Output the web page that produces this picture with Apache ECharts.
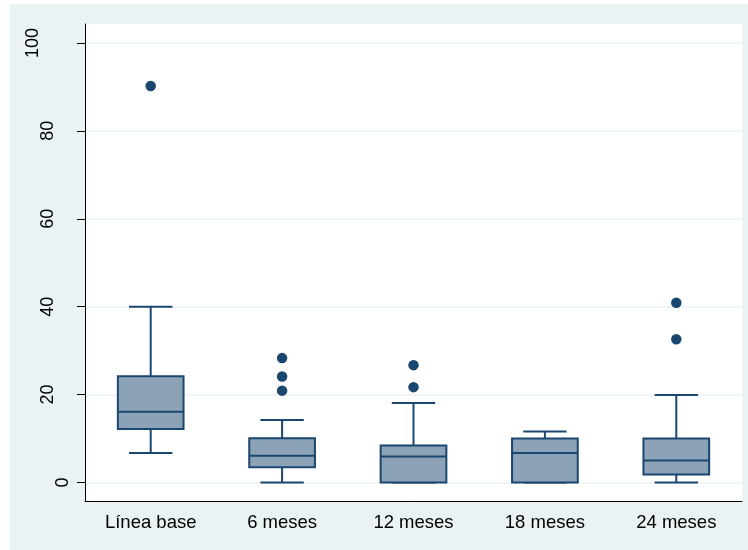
<!DOCTYPE html>
<html>
<head>
<meta charset="utf-8">
<script src="https://cdn.jsdelivr.net/npm/echarts@6/dist/echarts.min.js"></script>
<style>
  html, body { margin: 0; padding: 0; background: #fff; }
  #chart { position: absolute; left: 10px; top: 4px; width: 738px; height: 546px; background: #EAF2F3; }
</style>
</head>
<body>
<div id="chart"></div>
<script>
// categorias del eje x
const categories = ['Línea base', '6 meses', '12 meses', '18 meses', '24 meses'];
// [min, q1, mediana, q3, max] por grupo
const lowWhisker = [6.7, 0, 0, 0, 0];
const q1 = [12.2, 3.5, 0, 0, 1.8];
const median = [16.1, 6.1, 5.9, 6.7, 5.0];
const q3 = [24.2, 10.1, 8.4, 10.0, 10.0];
const highWhisker = [40.0, 14.2, 18.1, 11.6, 19.9];
// valores atipicos
const outliers = [
  [90.2],
  [28.3, 24.1, 20.9],
  [26.7, 21.7],
  [],
  [40.9, 32.6]
];
const yTicks = [0, 20, 40, 60, 80, 100];

const navy = '#1A476F';
const boxFill = '#8CA3B7';
const yMin = -4.2, yMax = 104.3;

let boxData = categories.map((c, i) => [i, lowWhisker[i], q1[i], median[i], q3[i], highWhisker[i]]);
let outData = [];
outliers.forEach((arr, i) => arr.forEach(v => outData.push([i, v])));

// las etiquetas del eje y se desplazan segun su longitud (como en Stata)
function yAxisFor(labels, margin, main) {
  return {
    type: 'value',
    min: yMin,
    max: yMax,
    position: 'left',
    axisLine: { show: main, onZero: false, lineStyle: { color: '#000', width: 1 } },
    axisTick: { show: main, length: 8, customValues: yTicks, lineStyle: { color: '#000' } },
    axisLabel: {
      customValues: labels,
      rotate: 90,
      margin: margin,
      color: '#000',
      fontSize: 18
    },
    splitLine: { show: main, lineStyle: { color: '#EAF2F3', width: 1.5 } }
  };
}

let chart = echarts.init(document.getElementById('chart'));
let option = {
  animation: false,
  textStyle: { fontFamily: 'Arial, "Liberation Sans", sans-serif' },
  grid: {
    left: 75, top: 20, right: 6, bottom: 49,
    show: true, backgroundColor: '#fff', borderWidth: 0
  },
  xAxis: {
    type: 'category',
    data: categories,
    axisLine: { onZero: false, lineStyle: { color: '#000', width: 1 } },
    axisTick: { show: false },
    axisLabel: { color: '#000', fontSize: 18.5, margin: 12 },
    splitLine: { show: false }
  },
  yAxis: [
    yAxisFor(yTicks.filter(v => String(v).length === 1), 13, true),
    yAxisFor(yTicks.filter(v => String(v).length === 2), 28, false),
    yAxisFor(yTicks.filter(v => String(v).length === 3), 43, false)
  ],
  series: [
    {
      type: 'custom',
      data: boxData,
      encode: { x: 0, y: [1, 2, 3, 4, 5] },
      renderItem: function (params, api) {
        let i = api.value(0);
        let pLow = api.coord([i, api.value(1)]);
        let pQ1 = api.coord([i, api.value(2)]);
        let pMed = api.coord([i, api.value(3)]);
        let pQ3 = api.coord([i, api.value(4)]);
        let pHigh = api.coord([i, api.value(5)]);
        let band = api.size([1, 0])[0];
        let bw = band * 0.5;
        let cw = band * 0.33;
        let x = pMed[0];
        let st = { stroke: navy, lineWidth: 2, fill: null };
        return {
          type: 'group',
          children: [
            { type: 'line', shape: { x1: x, y1: pHigh[1], x2: x, y2: pQ3[1] }, style: st },
            { type: 'line', shape: { x1: x, y1: pQ1[1], x2: x, y2: pLow[1] }, style: st },
            { type: 'line', shape: { x1: x - cw / 2, y1: pHigh[1], x2: x + cw / 2, y2: pHigh[1] }, style: st },
            { type: 'line', shape: { x1: x - cw / 2, y1: pLow[1], x2: x + cw / 2, y2: pLow[1] }, style: st },
            { type: 'rect', shape: { x: x - bw / 2, y: pQ3[1], width: bw, height: pQ1[1] - pQ3[1] },
              style: { fill: boxFill, stroke: navy, lineWidth: 2 } },
            { type: 'line', shape: { x1: x - bw / 2, y1: pMed[1], x2: x + bw / 2, y2: pMed[1] }, style: st }
          ]
        };
      }
    },
    {
      type: 'scatter',
      data: outData,
      symbol: 'circle',
      symbolSize: 10.5,
      itemStyle: { color: navy, opacity: 1 }
    }
  ]
};
chart.setOption(option);
</script>
</body>
</html>
